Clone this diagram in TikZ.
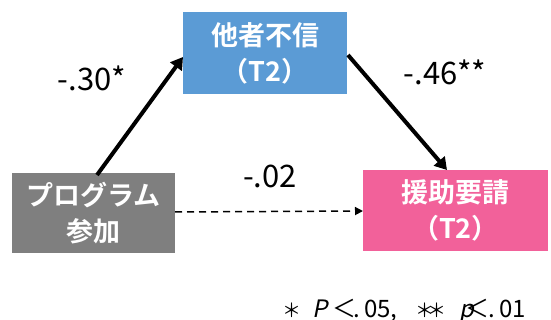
\documentclass[tikz,border=0pt]{standalone}
\usepackage{fontspec}
\setmainfont{Noto Sans CJK JP}[AutoFakeSlant=0.2]
\newfontfamily\jpbold{Noto Sans CJK JP Bold}
\usetikzlibrary{arrows.meta}
\definecolor{boxblue}{HTML}{5B9BD5}
\definecolor{boxgray}{HTML}{7F7F7F}
\definecolor{boxpink}{HTML}{F2619A}
\newcommand{\putat}[2]{\makebox[0pt][l]{\hspace{#1}#2}}
\newcommand{\notestar}{{\fontsize{19}{20}\selectfont ＊}}
\tikzset{
  varbox/.style={draw=none, text=white, font=\jpbold\fontsize{27}{36}\selectfont, align=center, inner sep=0pt},
  coef/.style={font=\fontsize{31}{34}\selectfont, inner sep=0pt},
  patharrow/.style={line width=4pt, -{Triangle[length=12pt,width=14pt]}},
}
\begin{document}
\begin{tikzpicture}[x=1pt,y=-1pt]
\useasboundingbox (0,0) rectangle (551,320);
\fill[boxblue] (183,12) rectangle (347,94);
\node[varbox] (med) at (265,53) {他者不信\\（T2）};
\fill[boxgray] (12,173) rectangle (175,253);
\node[varbox] (prog) at (93.5,213) {プログラム\\参加};
\fill[boxpink] (363,170) rectangle (548,251);
\node[varbox] (help) at (455.5,210.5) {援助要請\\（T2）};
\coordinate (medL) at (183,57);
\coordinate (medR) at (348,55);
\coordinate (progT) at (97,175);
\coordinate (helpT) at (447,170);
\coordinate (progR) at (175,212);
\coordinate (helpL) at (363,211);
\draw[patharrow] (progT) -- (medL);
\draw[patharrow] (medR) -- (helpT);
\draw[line width=1.5pt, dash pattern=on 7pt off 5pt, -{Triangle[length=8pt,width=8pt]}] (progR) -- (helpL);
\node[coef] (a) at (92,78) {-.30*};
\node[coef] (b) at (445,72) {-.46**};
\node[coef] (c) at (270,176) {-.02};
\node[font=\fontsize{24}{26}\selectfont, anchor=base west, inner sep=0pt] (note) at (282,317)
  {\putat{0pt}{\notestar}\putat{30pt}{\textit{P}}\putat{50pt}{＜}\putat{71pt}{.\hspace{4pt}05,}\putat{133pt}{\notestar}\putat{145pt}{\notestar}\putat{177pt}{\textit{p}}\putat{183pt}{＜}\putat{206pt}{.\hspace{4pt}01}\hspace{238pt}};
\end{tikzpicture}
\end{document}
